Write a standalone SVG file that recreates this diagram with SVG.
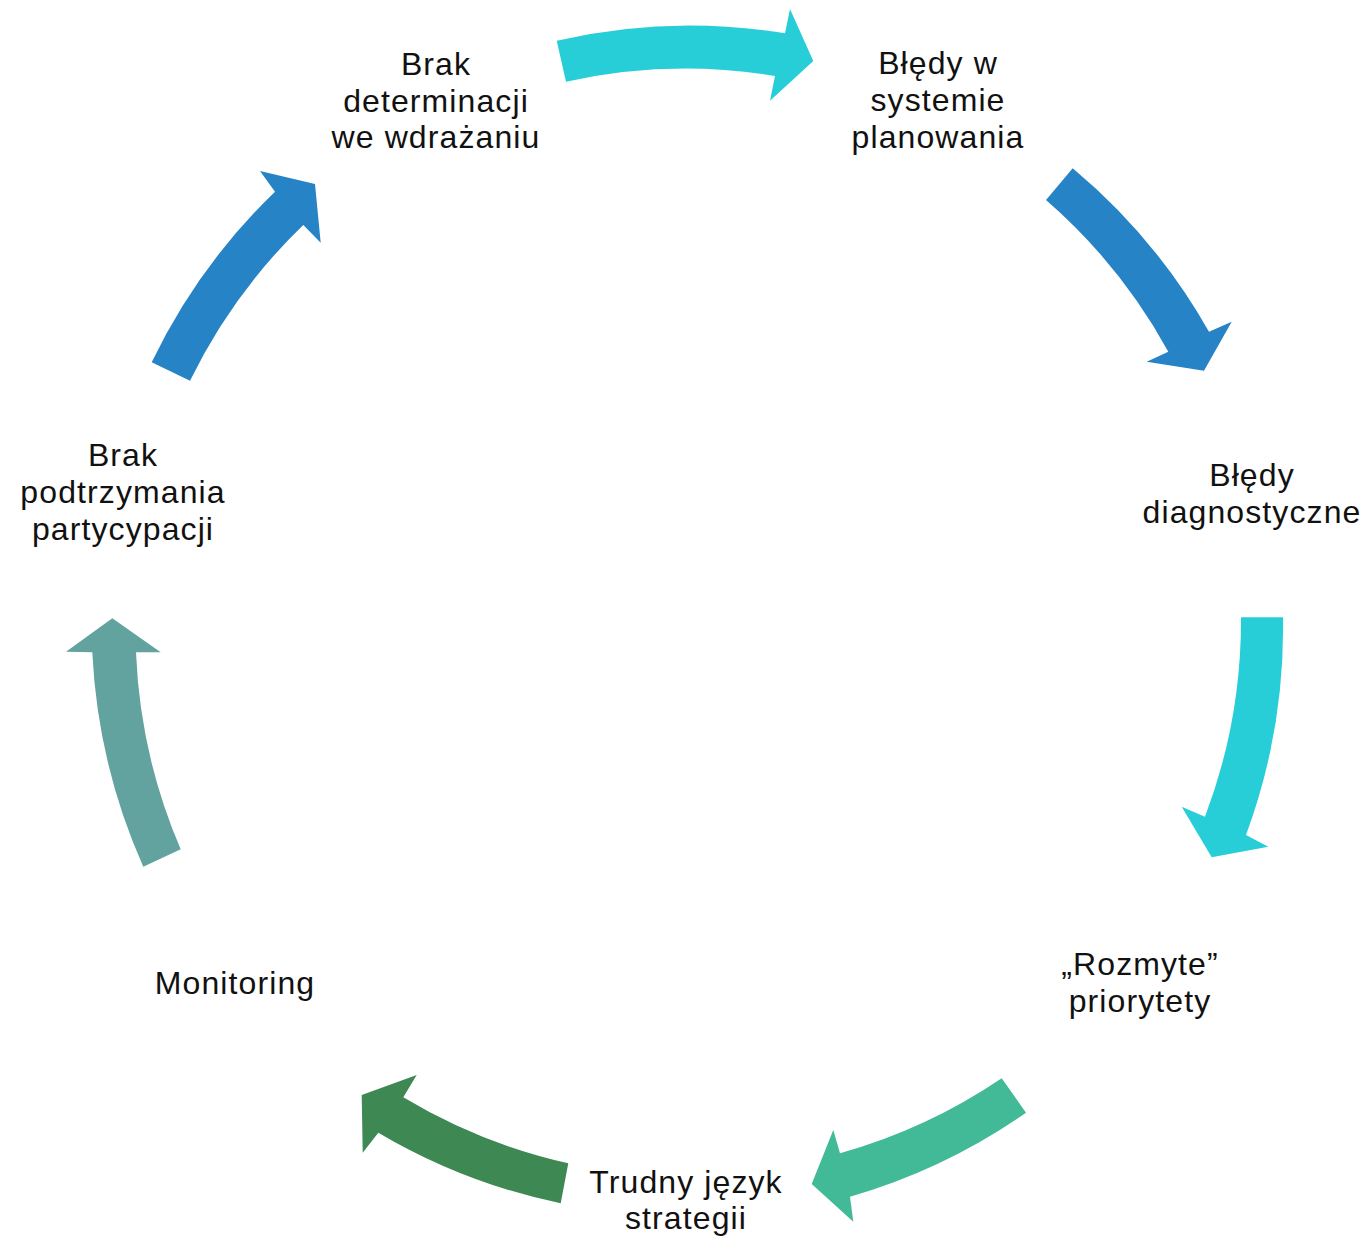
<svg xmlns="http://www.w3.org/2000/svg" width="1368" height="1240" viewBox="0 0 1368 1240">
<style>
.lbl{font-family:"Liberation Sans","Arial",sans-serif;font-size:32px;letter-spacing:1.1px;fill:#111111;text-anchor:middle}
.c1{fill:#27CED7}.c2{fill:#2683C6}.c4{fill:#42BA97}.c5{fill:#3E8853}.c6{fill:#62A39F}
</style>
<rect width="1368" height="1240" fill="#ffffff"/>
<g id="connectors">
<path id="a1" class="c1" d="M556.7,40.7 A592,592 0 0 1 785,33.3 L790,9 L813.3,61 L770,100.7 L775,76 A550,550 0 0 0 566,81.7 Z"/>
<path id="a2" class="c2" d="M1072.7,168.3 A595,595 0 0 1 1209,331.7 L1231.7,321.7 L1204,370.7 L1146.7,361.7 L1168.3,351.7 A553,553 0 0 0 1046,200 Z"/>
<path id="a3" class="c1" d="M1283,617.3 A597,597 0 0 1 1246,835 L1268.3,846.7 L1211.7,857.3 L1181.7,806.7 L1205,816.7 A555,555 0 0 0 1241,617.3 Z"/>
<path id="a4" class="c4" d="M1026,1112.7 A598,598 0 0 1 850,1196.7 L853.3,1221.7 L811.7,1184 L833.3,1130 L840,1153.3 A556,556 0 0 0 1001.7,1078.3 Z"/>
<path id="a5" class="c5" d="M560.7,1203.3 A598,598 0 0 1 378.3,1132.7 L362.7,1152.7 L361.7,1095 L416.7,1075 L403.3,1097.3 A556,556 0 0 0 568.3,1163.3 Z"/>
<path id="a6" class="c6" d="M143.3,866.7 A597,597 0 0 1 92.3,652.3 L66,651.7 L112.3,618.3 L160.7,652.3 L136,652.3 A555,555 0 0 0 180.7,849.3 Z"/>
<path id="a7" class="c2" d="M151.7,362.3 A595,595 0 0 1 275,191.7 L260,171 L315,184 L320.7,242.7 L303.3,225 A553,553 0 0 0 190,380.7 Z"/>
</g>
<g id="n1"><text class="lbl"><tspan x="436" y="75">Brak</tspan><tspan x="436" y="112">determinacji</tspan><tspan x="436" y="148">we wdrażaniu</tspan></text></g>
<g id="n2"><text class="lbl"><tspan x="938" y="74">Błędy w</tspan><tspan x="938" y="111">systemie</tspan><tspan x="938" y="148">planowania</tspan></text></g>
<g id="n3"><text class="lbl"><tspan x="1252" y="486">Błędy</tspan><tspan x="1252" y="523">diagnostyczne</tspan></text></g>
<g id="n4"><text class="lbl"><tspan x="1140" y="975">„Rozmyte”</tspan><tspan x="1140" y="1012">priorytety</tspan></text></g>
<g id="n5"><text class="lbl"><tspan x="686" y="1193">Trudny język</tspan><tspan x="686" y="1229">strategii</tspan></text></g>
<g id="n6"><text class="lbl"><tspan x="235" y="994">Monitoring</tspan></text></g>
<g id="n7"><text class="lbl"><tspan x="123" y="466">Brak</tspan><tspan x="123" y="503">podtrzymania</tspan><tspan x="123" y="540">partycypacji</tspan></text></g>
</svg>
